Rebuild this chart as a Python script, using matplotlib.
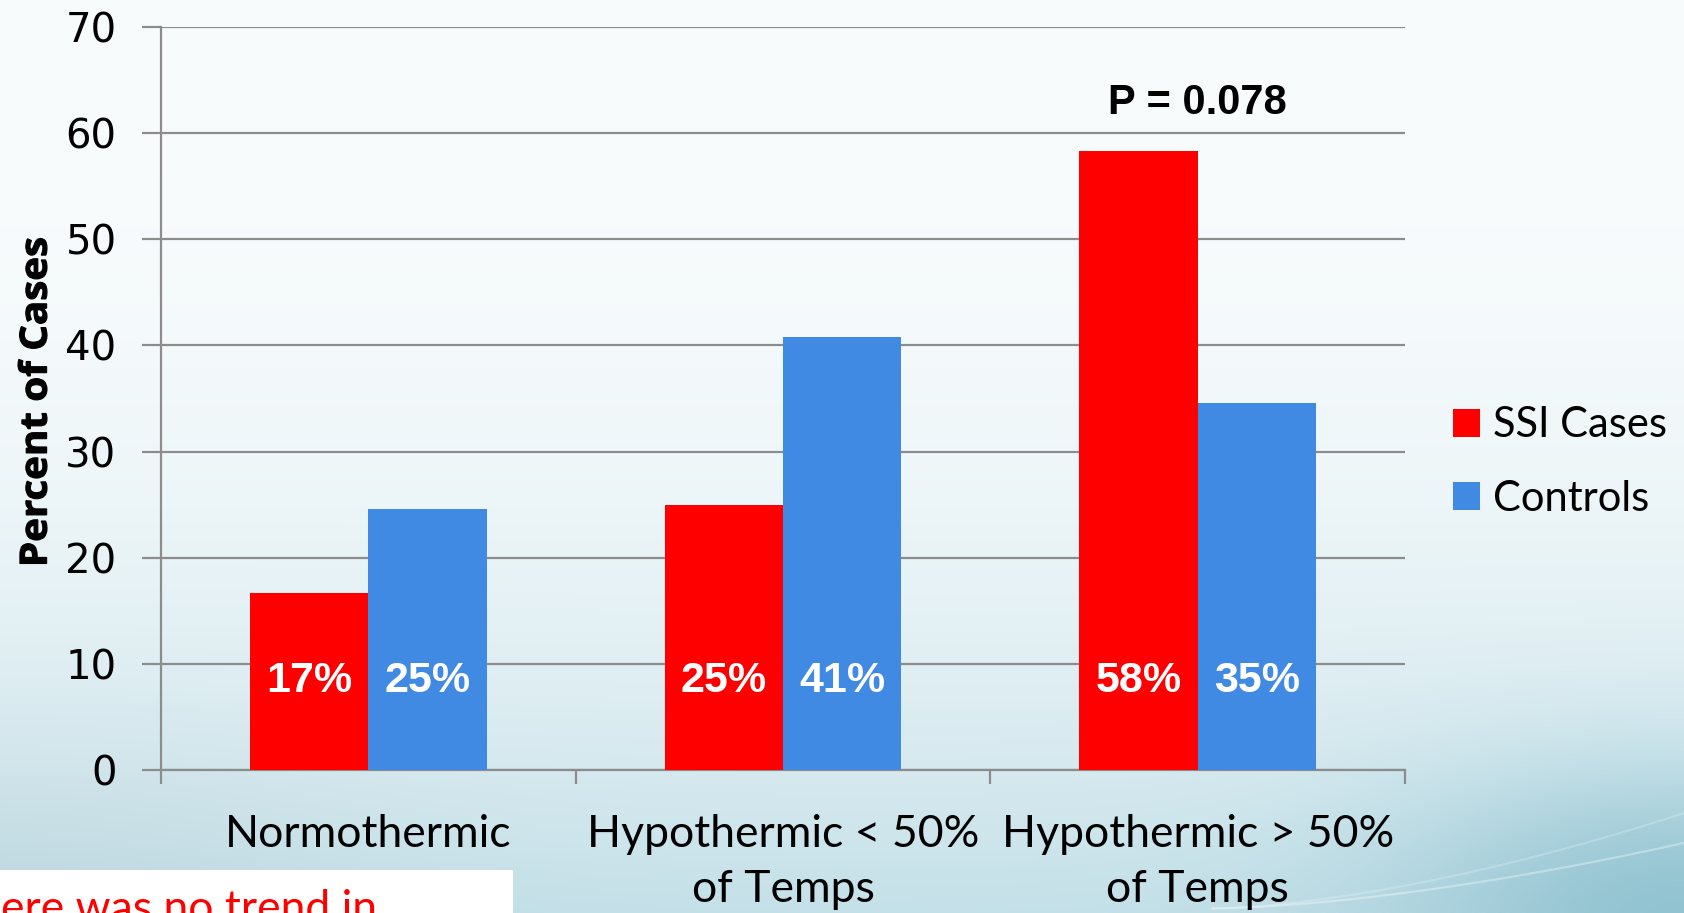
import numpy as np
import matplotlib
matplotlib.use("Agg")
import matplotlib.pyplot as plt
from matplotlib.patches import Rectangle, PathPatch
from matplotlib.textpath import TextPath
from matplotlib.font_manager import FontProperties
from matplotlib.transforms import Affine2D

# Chart data
categories = ["Normothermic", "Hypothermic < 50%\nof Temps", "Hypothermic > 50%\nof Temps"]
ssi_cases = [16.7, 25.0, 58.3]
controls = [24.6, 40.8, 34.6]
series_names = ["SSI Cases", "Controls"]
y_ticks = [0, 10, 20, 30, 40, 50, 60, 70]
p_value_text = "P = 0.078"
y_title = "Percent of Cases"
note_text = "There was no trend in"

RED = "#ff0000"
BLUE = "#418ae3"
GRID = "#8c8c8c"
LABEL_FONT = ["Lato", "DejaVu Sans"]

W, H = 1684, 913
fig = plt.figure(figsize=(W / 100, H / 100), dpi=100)

# Slide-style background: pale at top, fading to a soft teal toward the bottom
bg = fig.add_axes([0, 0, 1, 1], zorder=-10)
yy, xx = np.mgrid[0:1:H * 1j, 0:1:W * 1j]
top = np.array([249, 252, 253]) / 255
bottom = np.array([196, 224, 232]) / 255
corner = np.array([130, 186, 202]) / 255
t = yy ** 2.4
img = top[None, None, :] * (1 - t[..., None]) + bottom[None, None, :] * t[..., None]
left_glow = np.exp(-((xx) ** 2 / 0.05 + (1 - yy) ** 2 / 0.03))
img = img * (1 - 0.35 * left_glow[..., None]) + bottom * 0.9 * 0.35 * left_glow[..., None]
right_glow = np.exp(-((1 - xx) ** 2 / 0.03 + (1 - yy) ** 2 / 0.025))
img = img * (1 - 0.75 * right_glow[..., None]) + corner * 0.75 * right_glow[..., None]
bg.imshow(np.clip(img, 0, 1), extent=[0, 1, 0, 1], aspect="auto", origin="upper")
# faint sweeping lines in the lower right corner
for k, a in enumerate([0.35, 0.22]):
    xs = np.linspace(0.72, 1.0, 200)
    ys = 0.005 + (xs - 0.72) ** 1.6 * (0.55 + 0.25 * k)
    bg.plot(xs, ys, color="white", alpha=a, lw=1.5, transform=bg.transAxes)
bg.set_xlim(0, 1)
bg.set_ylim(0, 1)
bg.axis("off")

# White note box with text running off the slide edge
fig.patches.append(Rectangle((0, 0), 513 / W, (H - 870) / H, transform=fig.transFigure,
                             facecolor="white", edgecolor="none", zorder=0))
renderer = fig.canvas.get_renderer()
probe = fig.text(0, 0, "Th", fontsize=32, family=LABEL_FONT)
lead_w = probe.get_window_extent(renderer).width
probe.remove()
fig.text((1 - lead_w) / W, -9 / H, note_text, color=RED, fontsize=32, family=LABEL_FONT,
         ha="left", va="baseline")

# Main plot area
ax = fig.add_axes([161 / W, 1 - 770 / H, (1405 - 161) / W, (770 - 27) / H])
ax.set_facecolor("none")

x = np.arange(len(categories)) + 0.5
bw = 0.285
bars_ssi = ax.bar(x - bw / 2, ssi_cases, bw, color=RED, label=series_names[0], zorder=3)
bars_ctl = ax.bar(x + bw / 2, controls, bw, color=BLUE, label=series_names[1], zorder=3)

ax.set_xlim(0, len(categories))
ax.set_ylim(0, 70)
ax.set_yticks(y_ticks)
ax.set_yticklabels([str(v) for v in y_ticks], fontsize=29, family=["DejaVu Sans"])
ax.yaxis.grid(True, color=GRID, lw=1.6, zorder=0)
ax.set_axisbelow(True)

ax.set_xticks(np.arange(len(categories) + 1))
ax.set_xticklabels([])
ax.set_xticks(x, minor=True)
ax.set_xticklabels(categories, minor=True, fontsize=32, family=LABEL_FONT, linespacing=1.4)
ax.tick_params(axis="x", which="major", length=10, width=1.6, color=GRID, direction="out")
ax.tick_params(axis="x", which="minor", length=0, pad=32)
ax.tick_params(axis="y", length=14, width=1.6, color=GRID, direction="out", pad=18)

for side in ["top", "right"]:
    ax.spines[side].set_visible(False)
for side in ["left", "bottom"]:
    ax.spines[side].set_color(GRID)
    ax.spines[side].set_linewidth(1.6)

# Condensed bold axis title, drawn as a rotated glyph path
tp = TextPath((0, 0), y_title, size=100,
              prop=FontProperties(family=["Open Sans", "DejaVu Sans"], weight="bold"))
ext = tp.get_extents()
title_tr = (Affine2D()
            .translate(-(ext.x0 + ext.width / 2), -(ext.y0 + ext.height / 2))
            .scale(325 / ext.width, 29 / ext.height)
            .rotate_deg(90)
            .translate(32.5, 512))
fig.add_artist(PathPatch(tp, transform=title_tr, facecolor="black", edgecolor="black",
                         lw=0.8))

# Value labels near the base of each bar
for bars, vals in [(bars_ssi, ssi_cases), (bars_ctl, controls)]:
    for b, v in zip(bars, vals):
        ax.text(b.get_x() + b.get_width() / 2, 8.4, f"{v:.0f}%", color="white",
                fontsize=31, fontweight="bold", family=["Liberation Sans", "DejaVu Sans"],
                ha="center", va="center", zorder=4)

ax.text(x[2], 62.8, p_value_text, fontsize=30, fontweight="bold",
        family=["Liberation Sans", "DejaVu Sans"], ha="center", va="center")

leg = ax.legend(loc="center left", bbox_to_anchor=(1.0386, 0.4143), frameon=False,
                prop={"family": LABEL_FONT, "size": 30}, borderpad=0, borderaxespad=0,
                handlelength=0.65, handleheight=0.65, handletextpad=0.3, labelspacing=0.85)

fig.savefig("out.png", dpi=100)
